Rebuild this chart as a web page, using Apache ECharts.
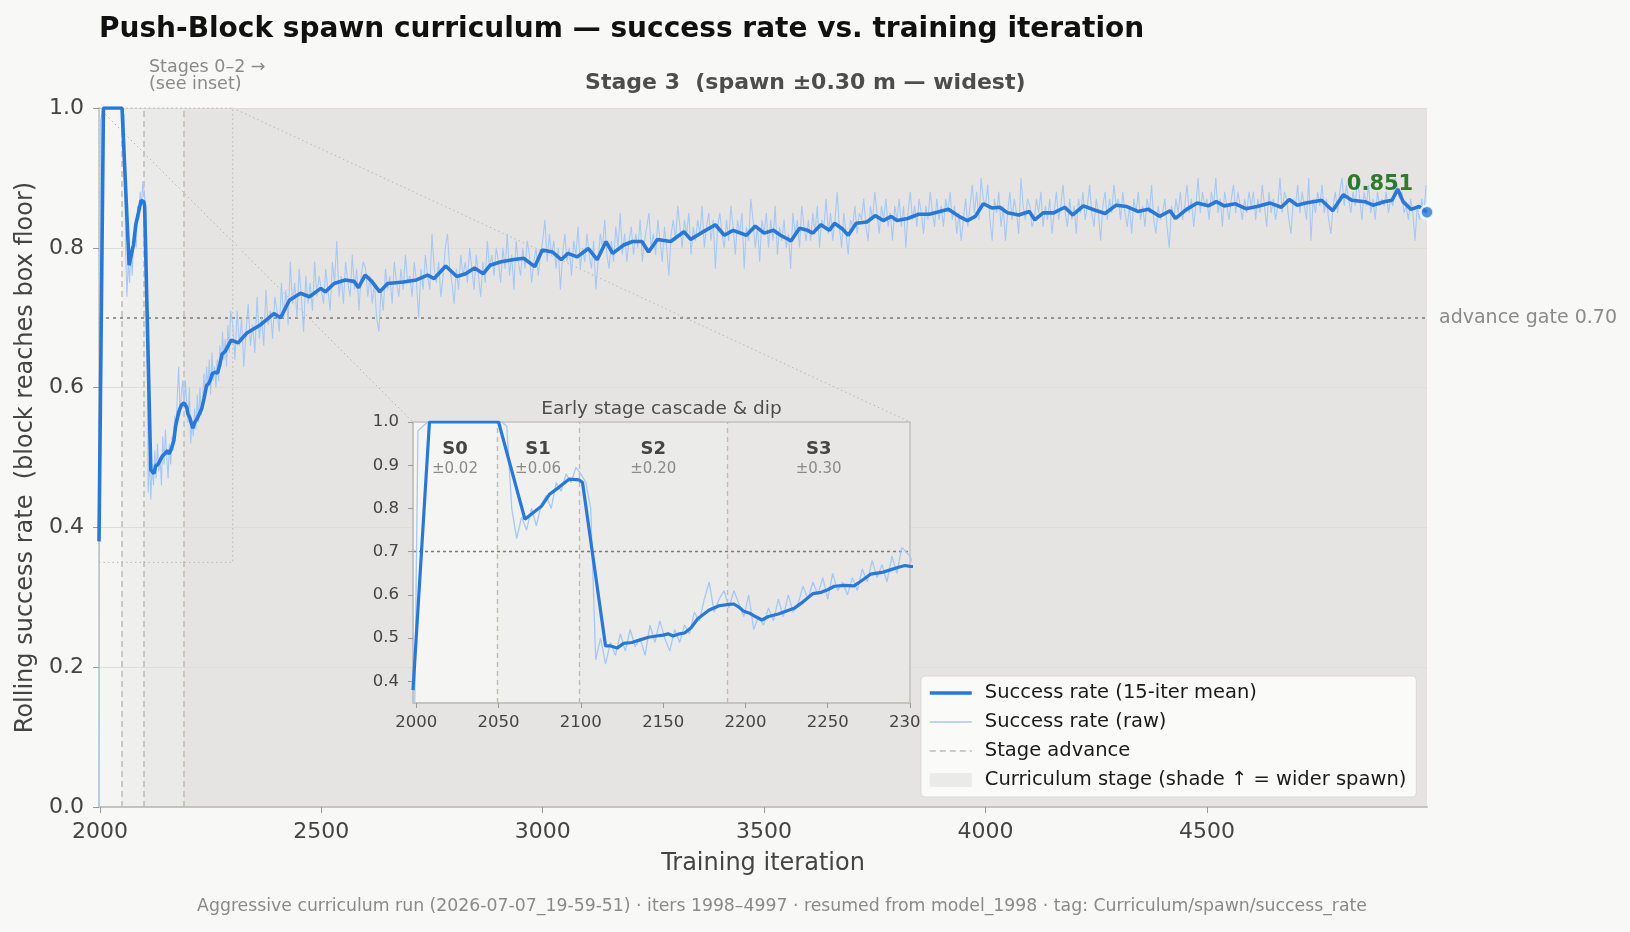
<!DOCTYPE html>
<html>
<head>
<meta charset="utf-8">
<script src="https://cdn.jsdelivr.net/npm/echarts@6/dist/echarts.min.js"></script>
<style>
  html, body { margin: 0; background: #f8f8f6; }
  #chart { width: 1630px; height: 932px; }
</style>
</head>
<body>
<div id="chart"></div>
<script>
// --- data ---
// 15-iter rolling mean, sampled at the turning points
const meanIters = [
  1998, 2008, 2050, 2066, 2071, 2076, 2081, 2087, 2093, 2099, 2101, 2115, 2118, 2122, 2126, 2131, 2136, 2141, 2146, 2150,
  2153, 2156, 2160, 2163, 2167, 2171, 2178, 2184, 2190, 2193, 2196, 2199, 2203, 2206, 2210, 2214, 2220, 2225, 2230, 2235,
  2241, 2246, 2250, 2254, 2260, 2266, 2271, 2276, 2283, 2288, 2293, 2297, 2300, 2312, 2332, 2363, 2393, 2408, 2428, 2453,
  2473, 2499, 2509, 2529, 2554, 2574, 2584, 2599, 2614, 2632, 2650, 2685, 2715, 2740, 2755, 2781, 2806, 2826, 2846, 2866,
  2881, 2906, 2932, 2957, 2982, 2999, 3022, 3042, 3057, 3078, 3103, 3123, 3143, 3158, 3183, 3203, 3224, 3239, 3259, 3289,
  3319, 3334, 3360, 3390, 3410, 3430, 3460, 3480, 3500, 3521, 3537, 3561, 3580, 3598, 3610, 3628, 3647, 3659, 3677, 3690,
  3708, 3732, 3751, 3769, 3787, 3800, 3824, 3849, 3873, 3897, 3916, 3940, 3959, 3977, 3995, 4014, 4032, 4050, 4075, 4099,
  4111, 4130, 4154, 4179, 4197, 4221, 4246, 4270, 4295, 4319, 4344, 4368, 4393, 4417, 4429, 4454, 4478, 4503, 4521, 4539,
  4564, 4588, 4613, 4643, 4668, 4686, 4704, 4723, 4759, 4784, 4808, 4827, 4857, 4875, 4900, 4918, 4931, 4943, 4961, 4979,
  4997
]
const meanVals = [
  0.38, 1.0, 1.0, 0.775, 0.79, 0.805, 0.833, 0.85, 0.868, 0.866, 0.86, 0.482, 0.482, 0.477, 0.488, 0.49, 0.496, 0.502, 0.505, 0.507,
  0.51, 0.505, 0.51, 0.512, 0.524, 0.545, 0.565, 0.575, 0.578, 0.579, 0.572, 0.562, 0.557, 0.55, 0.542, 0.55, 0.556, 0.563, 0.57, 0.584,
  0.603, 0.606, 0.612, 0.62, 0.622, 0.621, 0.634, 0.648, 0.652, 0.658, 0.664, 0.668, 0.666, 0.664, 0.678, 0.69, 0.706, 0.70, 0.725, 0.735,
  0.73, 0.742, 0.737, 0.749, 0.754, 0.752, 0.743, 0.761, 0.752, 0.737, 0.749, 0.751, 0.754, 0.761, 0.756, 0.774, 0.759, 0.763, 0.771, 0.763,
  0.775, 0.78, 0.783, 0.785, 0.773, 0.797, 0.794, 0.783, 0.792, 0.787, 0.799, 0.783, 0.809, 0.792, 0.804, 0.809, 0.809, 0.794, 0.812, 0.809,
  0.823, 0.812, 0.822, 0.833, 0.818, 0.825, 0.818, 0.831, 0.821, 0.825, 0.818, 0.81, 0.828, 0.825, 0.821, 0.833, 0.825, 0.835, 0.827, 0.818,
  0.835, 0.837, 0.846, 0.839, 0.845, 0.839, 0.842, 0.848, 0.848, 0.852, 0.855, 0.845, 0.839, 0.845, 0.863, 0.857, 0.858, 0.85, 0.847, 0.852,
  0.84, 0.85, 0.85, 0.858, 0.847, 0.86, 0.854, 0.849, 0.861, 0.859, 0.852, 0.855, 0.845, 0.853, 0.842, 0.855, 0.864, 0.86, 0.866, 0.86,
  0.863, 0.856, 0.859, 0.864, 0.858, 0.869, 0.861, 0.864, 0.868, 0.853, 0.876, 0.868, 0.866, 0.861, 0.866, 0.868, 0.884, 0.866, 0.855, 0.859,
  0.851
]

// raw success rate, early part every 3 iters from 1998
const rawEarlyStart = 1998
const rawEarlyStep = 3
const rawEarly = [
  0.00, 0.98, 0.99, 1.0, 1.0, 1.0, 1.0, 1.0, 1.0, 1.0, 1.0, 1.0, 1.0, 1.0, 1.0, 1.0, 1.0, 1.0, 1.0, 0.99,
  0.80, 0.73, 0.78, 0.75, 0.80, 0.76, 0.81, 0.83, 0.80, 0.86, 0.84, 0.88, 0.86, 0.895, 0.88, 0.86, 0.80, 0.45, 0.50, 0.44,
  0.49, 0.46, 0.51, 0.47, 0.52, 0.48, 0.50, 0.46, 0.53, 0.49, 0.54, 0.50, 0.47, 0.52, 0.49, 0.53, 0.51, 0.56, 0.54, 0.59,
  0.63, 0.56, 0.59, 0.61, 0.57, 0.61, 0.58, 0.55, 0.60, 0.52, 0.55, 0.53, 0.57, 0.54, 0.59, 0.55, 0.60, 0.56, 0.58, 0.62,
  0.59, 0.63, 0.60, 0.64, 0.59, 0.65, 0.61, 0.63, 0.60, 0.64, 0.61, 0.66, 0.63, 0.68, 0.64, 0.67, 0.63, 0.69, 0.65, 0.71
]
// raw success rate, every 5 iters from 2300 (one row = 100 iters)
const rawLateStart = 2300
const rawLateStep = 5
const rawLate = [
  0.69, 0.64, 0.71, 0.66, 0.70, 0.63, 0.68, 0.72, 0.66, 0.69, 0.65, 0.73, 0.67, 0.70, 0.66, 0.74, 0.69, 0.71, 0.67, 0.73,
  0.71, 0.68, 0.75, 0.70, 0.74, 0.69, 0.78, 0.72, 0.75, 0.70, 0.77, 0.73, 0.68, 0.76, 0.72, 0.75, 0.71, 0.78, 0.73, 0.76,
  0.74, 0.72, 0.77, 0.74, 0.71, 0.78, 0.75, 0.81, 0.73, 0.76, 0.72, 0.78, 0.75, 0.73, 0.79, 0.74, 0.77, 0.71, 0.76, 0.78,
  0.77, 0.73, 0.76, 0.72, 0.75, 0.70, 0.68, 0.74, 0.71, 0.77, 0.74, 0.76, 0.72, 0.78, 0.75, 0.73, 0.77, 0.74, 0.79, 0.75,
  0.76, 0.73, 0.78, 0.75, 0.70, 0.77, 0.74, 0.79, 0.76, 0.74, 0.82, 0.77, 0.75, 0.78, 0.73, 0.76, 0.80, 0.82, 0.77, 0.75,
  0.72, 0.77, 0.74, 0.79, 0.76, 0.78, 0.75, 0.80, 0.77, 0.74, 0.79, 0.76, 0.73, 0.78, 0.75, 0.81, 0.77, 0.79, 0.76, 0.80,
  0.78, 0.75, 0.80, 0.77, 0.82, 0.76, 0.79, 0.74, 0.81, 0.78, 0.76, 0.80, 0.77, 0.81, 0.79, 0.75, 0.78, 0.80, 0.76, 0.79,
  0.81, 0.84, 0.78, 0.82, 0.79, 0.81, 0.77, 0.80, 0.74, 0.79, 0.82, 0.78, 0.80, 0.76, 0.81, 0.79, 0.83, 0.77, 0.80, 0.78,
  0.82, 0.79, 0.77, 0.81, 0.74, 0.78, 0.82, 0.80, 0.84, 0.79, 0.77, 0.81, 0.78, 0.83, 0.80, 0.85, 0.79, 0.82, 0.78, 0.81,
  0.83, 0.79, 0.82, 0.80, 0.84, 0.78, 0.81, 0.83, 0.85, 0.80, 0.82, 0.79, 0.84, 0.81, 0.78, 0.83, 0.80, 0.76, 0.82, 0.84,
  0.81, 0.86, 0.83, 0.80, 0.84, 0.82, 0.85, 0.79, 0.83, 0.81, 0.84, 0.82, 0.86, 0.80, 0.83, 0.85, 0.81, 0.84, 0.77, 0.83,
  0.85, 0.82, 0.80, 0.84, 0.81, 0.86, 0.83, 0.79, 0.84, 0.82, 0.85, 0.77, 0.83, 0.81, 0.87, 0.84, 0.80, 0.83, 0.78, 0.84,
  0.82, 0.85, 0.80, 0.84, 0.81, 0.86, 0.79, 0.83, 0.81, 0.84, 0.80, 0.82, 0.77, 0.85, 0.82, 0.84, 0.80, 0.86, 0.83, 0.81,
  0.84, 0.81, 0.85, 0.82, 0.86, 0.80, 0.84, 0.83, 0.87, 0.82, 0.85, 0.81, 0.84, 0.88, 0.83, 0.80, 0.85, 0.82, 0.79, 0.84,
  0.83, 0.86, 0.82, 0.85, 0.84, 0.87, 0.83, 0.81, 0.86, 0.84, 0.88, 0.85, 0.82, 0.86, 0.84, 0.87, 0.83, 0.85, 0.81, 0.86,
  0.84, 0.87, 0.83, 0.86, 0.80, 0.85, 0.88, 0.84, 0.86, 0.83, 0.87, 0.85, 0.82, 0.86, 0.84, 0.88, 0.85, 0.83, 0.87, 0.84,
  0.86, 0.83, 0.87, 0.85, 0.88, 0.84, 0.86, 0.82, 0.85, 0.81, 0.84, 0.87, 0.83, 0.86, 0.89, 0.85, 0.88, 0.84, 0.90, 0.87,
  0.86, 0.89, 0.84, 0.81, 0.87, 0.85, 0.88, 0.83, 0.86, 0.81, 0.85, 0.88, 0.84, 0.87, 0.85, 0.82, 0.90, 0.86, 0.84, 0.87,
  0.86, 0.83, 0.84, 0.87, 0.85, 0.88, 0.83, 0.86, 0.84, 0.87, 0.82, 0.85, 0.88, 0.84, 0.86, 0.89, 0.85, 0.83, 0.87, 0.84,
  0.86, 0.82, 0.87, 0.85, 0.88, 0.84, 0.86, 0.89, 0.85, 0.83, 0.87, 0.85, 0.81, 0.86, 0.88, 0.84, 0.87, 0.85, 0.89, 0.86,
  0.87, 0.84, 0.88, 0.85, 0.83, 0.86, 0.82, 0.87, 0.85, 0.88, 0.84, 0.86, 0.83, 0.87, 0.85, 0.89, 0.84, 0.82, 0.86, 0.84,
  0.85, 0.87, 0.83, 0.80, 0.86, 0.84, 0.87, 0.85, 0.88, 0.84, 0.86, 0.89, 0.85, 0.87, 0.83, 0.86, 0.90, 0.85, 0.88, 0.86,
  0.87, 0.84, 0.88, 0.86, 0.90, 0.85, 0.87, 0.83, 0.88, 0.86, 0.84, 0.87, 0.89, 0.85, 0.88, 0.86, 0.84, 0.87, 0.85, 0.88,
  0.86, 0.88, 0.84, 0.87, 0.85, 0.89, 0.86, 0.83, 0.88, 0.85, 0.87, 0.84, 0.86, 0.90, 0.85, 0.88, 0.87, 0.84, 0.82, 0.87,
  0.86, 0.89, 0.85, 0.88, 0.86, 0.84, 0.90, 0.81, 0.87, 0.85, 0.88, 0.86, 0.89, 0.85, 0.87, 0.84, 0.82, 0.86, 0.88, 0.85,
  0.88, 0.90, 0.86, 0.89, 0.87, 0.85, 0.88, 0.86, 0.90, 0.87, 0.84, 0.88, 0.86, 0.89, 0.85, 0.87, 0.84, 0.88, 0.86, 0.87,
  0.86, 0.88, 0.85, 0.87, 0.86, 0.90, 0.89, 0.87, 0.88, 0.85, 0.86, 0.84, 0.87, 0.85, 0.81, 0.86, 0.84, 0.87, 0.85, 0.89
]

const stageEdges = [1998, 2049, 2099, 2189, 4997]
const stageNames = ['S0', 'S1', 'S2', 'S3']
const stageSpawn = ['±0.02', '±0.06', '±0.20', '±0.30']
const advanceIters = [2049, 2099, 2189]
const gateValue = 0.70
const lastPoint = [4997, 0.851]
const xTicks = [2000, 2500, 3000, 3500, 4000, 4500]
const insetXTicks = [2000, 2050, 2100, 2150, 2200, 2250, 2300]
const insetYTicks = [0.4, 0.5, 0.6, 0.7, 0.8, 0.9, 1.0]
const insetRange = { x: [1998, 2300], y: [0.35, 1.0] }

// --- build series data ---
const meanData = meanIters.map((x, i) => [x, meanVals[i]])
const rawData = rawEarly.map((v, i) => [rawEarlyStart + i * rawEarlyStep, v])
  .concat(rawLate.map((v, i) => [rawLateStart + i * rawLateStep, v]))

const font = '"DejaVu Sans", sans-serif'
const MEAN = '#2a78d6'
const RAW = '#a6c8f4'
const DASH = '#bdbdb3'
const mainShades = ['#f5f5f3', '#efefed', '#eaeae8', '#e5e4e2']
const insetShades = ['#f5f5f3', '#f0f0ee', '#ebebe9', '#e8e7e5']

const chart = echarts.init(document.getElementById('chart'), null, { renderer: 'canvas' })

const mainStageAreas = stageNames.map((n, i) => [
  {
    xAxis: stageEdges[i],
    itemStyle: { color: mainShades[i] },
    label: i === 3 ? {
      show: true,
      position: 'top',
      distance: 14,
      formatter: 'Stage 3  (spawn ±0.30 m — widest)',
      fontFamily: font, fontSize: 22, fontWeight: 'bold', color: '#4d4d4d'
    } : { show: false }
  },
  { xAxis: stageEdges[i + 1] }
])

const insetStageAreas = stageNames.map((n, i) => [
  {
    xAxis: stageEdges[i],
    itemStyle: { color: insetShades[i] },
    label: {
      show: true,
      position: 'insideTop',
      distance: 17,
      formatter: `{a|${n}}\n{b|${stageSpawn[i]}}`,
      rich: {
        a: { fontFamily: font, fontSize: 18, fontWeight: 'bold', color: '#444', lineHeight: 21 },
        b: { fontFamily: font, fontSize: 15, color: '#8a8a8a', lineHeight: 19 }
      }
    }
  },
  { xAxis: Math.min(stageEdges[i + 1], insetRange.x[1]) }
])

const plain = v => String(Math.round(v))
// line entries in the legend: draw the stroke only, no marker
const noMarker = { opacity: 0 }

const option = {
  animation: false,
  backgroundColor: '#f8f8f6',
  textStyle: { fontFamily: font },

  grid: [
    { left: 99, right: 203, top: 108, bottom: 125, containLabel: false },
    // inset panel
    { left: 413, top: 422, width: 497, height: 281, show: true, z: 9,
      backgroundColor: 'transparent', borderColor: '#c2c2ba', borderWidth: 1.5 }
  ],

  xAxis: [
    {
      type: 'value', gridIndex: 0, min: 1998, max: 4997, z: 1,
      axisLine: { lineStyle: { color: '#c4c4bc', width: 2 } },
      axisTick: { customValues: xTicks, length: 6, lineStyle: { color: '#999' } },
      axisLabel: { customValues: xTicks, fontSize: 22, color: '#444', margin: 14, fontFamily: font, formatter: plain },
      splitLine: { show: false },
      name: 'Training iteration', nameLocation: 'middle', nameGap: 45,
      nameTextStyle: { fontSize: 24, color: '#444', fontFamily: font }
    },
    {
      type: 'value', gridIndex: 1, min: insetRange.x[0], max: insetRange.x[1], z: 9,
      axisLine: { lineStyle: { color: '#c2c2ba', width: 1.5 } },
      axisTick: { customValues: insetXTicks, length: 5, lineStyle: { color: '#999' } },
      axisLabel: { customValues: insetXTicks, fontSize: 16.5, color: '#444', margin: 11, fontFamily: font, formatter: plain },
      splitLine: { show: false }
    }
  ],

  yAxis: [
    {
      type: 'value', gridIndex: 0, min: 0, max: 1, interval: 0.2, z: 1,
      axisLine: { show: true, lineStyle: { color: '#c4c4bc', width: 1.5 } },
      axisTick: { show: true, length: 6, lineStyle: { color: '#999' } },
      axisLabel: { fontSize: 22, color: '#444', margin: 15, fontFamily: font, formatter: v => v.toFixed(1) },
      splitLine: { lineStyle: { color: '#dddcd5', width: 1 } },
      name: 'Rolling success rate  (block reaches box floor)', nameLocation: 'middle', nameGap: 60,
      nameTextStyle: { fontSize: 24, color: '#444', fontFamily: font }
    },
    {
      type: 'value', gridIndex: 1, min: insetRange.y[0], max: insetRange.y[1], z: 9,
      axisLine: { show: true, lineStyle: { color: '#c2c2ba', width: 1.5 } },
      axisTick: { show: true, customValues: insetYTicks, length: 5, lineStyle: { color: '#999' } },
      axisLabel: { customValues: insetYTicks, fontSize: 16.5, color: '#444', margin: 14, fontFamily: font, formatter: v => v.toFixed(1) },
      splitLine: { show: false }
    }
  ],

  legend: {
    data: [
      { name: 'Success rate (15-iter mean)', itemStyle: noMarker, lineStyle: { width: 3.6 } },
      { name: 'Success rate (raw)', itemStyle: noMarker, lineStyle: { width: 1.3 } },
      { name: 'Stage advance', itemStyle: noMarker, lineStyle: { width: 1.6 } },
      { name: 'Curriculum stage (shade ↑ = wider spawn)', icon: 'rect' }
    ],
    orient: 'vertical',
    z: 12,
    left: 921, top: 676,
    padding: [6, 10, 6, 7],
    itemWidth: 42, itemHeight: 14, itemGap: 7,
    backgroundColor: '#fafaf9', borderColor: '#d9d9d6', borderWidth: 1, borderRadius: 4,
    textStyle: { fontFamily: font, fontSize: 19.5, color: '#1a1a1a', lineHeight: 22, padding: [0, 0, 0, 8] },
    selectedMode: false
  },

  series: [
    // stage shading (main)
    {
      name: 'Curriculum stage (shade ↑ = wider spawn)',
      type: 'scatter', data: [], xAxisIndex: 0, yAxisIndex: 0,
      itemStyle: { color: '#e6e6e4' },
      markArea: { silent: true, z: 0, data: mainStageAreas }
    },
    // stage advance lines (main)
    {
      name: 'Stage advance',
      type: 'line', data: [], symbol: 'none', xAxisIndex: 0, yAxisIndex: 0,
      lineStyle: { color: DASH, type: [6, 4], width: 1.5 },
      itemStyle: { color: DASH },
      markLine: {
        silent: true, symbol: ['none', 'none'], z: 2,
        label: { show: false },
        lineStyle: { color: DASH, type: [6, 4], width: 1.5 },
        data: advanceIters.map(x => ({ xAxis: x }))
      },
      // dotted box marking the inset region
      markArea: {
        silent: true, z: 1,
        itemStyle: { color: 'rgba(0,0,0,0)', borderColor: '#b8b8b0', borderWidth: 1, borderType: [1.5, 3] },
        data: [[{ xAxis: insetRange.x[0], yAxis: insetRange.y[0] }, { xAxis: insetRange.x[1], yAxis: insetRange.y[1] }]]
      }
    },
    {
      name: 'Success rate (raw)',
      type: 'line', data: rawData, symbol: 'none', xAxisIndex: 0, yAxisIndex: 0, z: 3,
      lineStyle: { color: RAW, width: 1.1 },
      itemStyle: { color: RAW }
    },
    {
      name: 'Success rate (15-iter mean)',
      type: 'line', data: meanData, symbol: 'none', xAxisIndex: 0, yAxisIndex: 0, z: 4,
      lineStyle: { color: MEAN, width: 3.6 },
      itemStyle: { color: MEAN },
      markLine: {
        silent: true, symbol: ['none', 'none'], z: 2,
        lineStyle: { color: '#7a7a7a', type: [3, 4], width: 1.6 },
        label: {
          show: true, position: 'end', distance: 12,
          formatter: 'advance gate 0.70',
          fontFamily: font, fontSize: 19, color: '#8a8a8a'
        },
        data: [{ yAxis: gateValue }]
      }
    },
    // end marker
    {
      name: 'last',
      type: 'scatter', data: [lastPoint], xAxisIndex: 0, yAxisIndex: 0, z: 6,
      symbolSize: 13,
      itemStyle: { color: MEAN, borderColor: '#fff', borderWidth: 2.5 },
      label: {
        show: true, position: 'inside', offset: [-47, -28],
        formatter: p => p.value[1].toFixed(3),
        fontFamily: font, fontSize: 21, fontWeight: 'bold', color: '#006000'
      }
    },

    // ---- inset ----
    {
      name: 'inset stages',
      type: 'line', data: [], xAxisIndex: 1, yAxisIndex: 1, z: 8,
      markArea: { silent: true, z: 8, data: insetStageAreas },
      markLine: {
        silent: true, symbol: ['none', 'none'], z: 9,
        label: { show: false },
        data: advanceIters.map(x => ({ xAxis: x, lineStyle: { color: DASH, type: [5, 4], width: 1.4 } }))
          .concat([{ yAxis: gateValue, lineStyle: { color: '#7a7a7a', type: [3, 3], width: 1.4 } }])
      }
    },
    {
      name: 'inset frame',
      type: 'line', data: [], xAxisIndex: 1, yAxisIndex: 1, z: 8,
      markArea: {
        silent: true, z: 8,
        itemStyle: { color: 'rgba(0,0,0,0)' },
        label: {
          show: true, position: 'top', distance: 3,
          formatter: 'Early stage cascade & dip',
          fontFamily: font, fontSize: 18.5, color: '#4d4d4d'
        },
        data: [[{ xAxis: insetRange.x[0] }, { xAxis: insetRange.x[1] }]]
      }
    },
    {
      name: 'inset raw',
      type: 'line', data: rawData, symbol: 'none', xAxisIndex: 1, yAxisIndex: 1, z: 10,
      lineStyle: { color: RAW, width: 1.3 }
    },
    {
      name: 'inset mean',
      type: 'line', data: meanData, symbol: 'none', xAxisIndex: 1, yAxisIndex: 1, z: 11,
      lineStyle: { color: MEAN, width: 3.2 }
    }
  ],

  graphic: [
    {
      type: 'text', left: 99, top: 16, z: 20,
      style: { text: 'Push-Block spawn curriculum — success rate vs. training iteration',
        font: `bold 28px ${font}`, fill: '#111' }
    },
    {
      type: 'text', left: 149, top: 58, z: 20,
      style: { text: 'Stages 0–2 →\n(see inset)', font: `17.5px ${font}`, fill: '#8a8a8a', lineHeight: 17 }
    },
    {
      type: 'text', x: 782, y: 907, z: 20,
      style: {
        text: 'Aggressive curriculum run (2026-07-07_19-59-51) · iters 1998–4997 · resumed from model_1998 · tag: Curriculum/spawn/success_rate',
        font: `17.3px ${font}`, fill: '#8a8a8a', textAlign: 'center', textVerticalAlign: 'middle'
      }
    }
  ]
}

chart.setOption(option)

// dotted connectors from the inset region to the inset panel corners
const a0 = chart.convertToPixel({ gridIndex: 0 }, [insetRange.x[0], insetRange.y[1]])
const a1 = chart.convertToPixel({ gridIndex: 0 }, [insetRange.x[1], insetRange.y[1]])
const b0 = chart.convertToPixel({ gridIndex: 1 }, [insetRange.x[0], insetRange.y[1]])
const b1 = chart.convertToPixel({ gridIndex: 1 }, [insetRange.x[1], insetRange.y[1]])
const connStyle = { stroke: '#b8b8b0', lineWidth: 1, lineDash: [1.5, 3] }
chart.setOption({
  graphic: [
    { id: 'c0', type: 'line', z: 1, silent: true, shape: { x1: a0[0], y1: a0[1], x2: b0[0], y2: b0[1] }, style: connStyle },
    { id: 'c1', type: 'line', z: 1, silent: true, shape: { x1: a1[0], y1: a1[1], x2: b1[0], y2: b1[1] }, style: connStyle }
  ]
})
</script>
</body>
</html>
